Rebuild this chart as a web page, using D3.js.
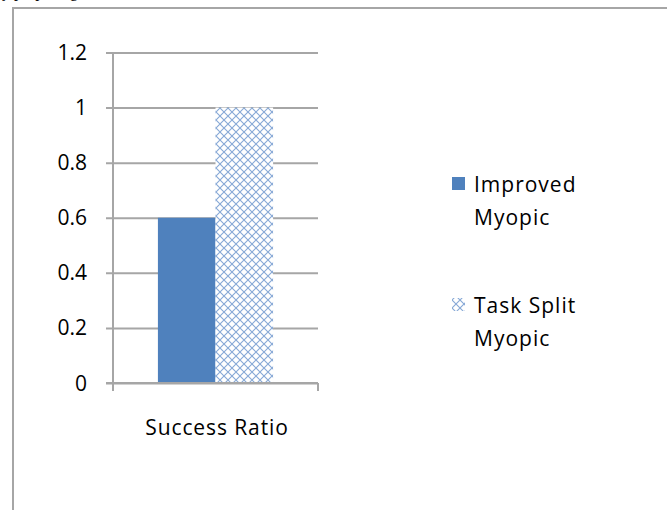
<!DOCTYPE html>
<html>
<head>
<meta charset="utf-8">
<script src="https://cdn.jsdelivr.net/npm/d3@7"></script>
<style>
  html, body { margin: 0; padding: 0; background: #fff; }
  svg { display: block; }
</style>
</head>
<body>
<div id="chart"></div>
<script>
// Data
const categories = ["Success Ratio"];
const seriesNames = ["Improved Myopic", "Task Split Myopic"];
const improvedMyopic = [0.6];
const taskSplitMyopic = [1.0];
const yTicks = [0, 0.2, 0.4, 0.6, 0.8, 1, 1.2];

const W = 667, H = 510;
const svg = d3.select("#chart").append("svg").attr("width", W).attr("height", H);

// Crosshatch pattern for the second series
const defs = svg.append("defs");
const pat = defs.append("pattern")
  .attr("id", "xhatch").attr("patternUnits", "userSpaceOnUse")
  .attr("width", 8).attr("height", 8);
pat.append("rect").attr("width", 8).attr("height", 8).attr("fill", "#fff");
pat.append("path").attr("d", "M0,0 L8,8 M8,0 L0,8")
  .attr("stroke", "#86a8d6").attr("stroke-width", 1.1).attr("fill", "none");

const font = "'Open Sans', Lato, sans-serif";

// Clipped line of the surrounding page text above the frame
svg.append("text").attr("x", -6).attr("y", -3)
  .attr("font-family", "'Liberation Serif', serif").attr("font-size", 16)
  .attr("fill", "#000").text("by proposing");

// Chart frame
svg.append("path").attr("d", "M13,515 L13,8 L667,8")
  .attr("fill", "none").attr("stroke", "#a6a6a6").attr("stroke-width", 2);

// Scales
const plot = { left: 113, right: 318, top: 52.5, bottom: 383 };
const y = d3.scaleLinear().domain([0, 1.2]).range([plot.bottom, plot.top]);
const x0 = d3.scaleBand().domain(categories).range([plot.left, plot.right]).paddingInner(0).paddingOuter(0.39);
const x1 = d3.scaleBand().domain(seriesNames).range([0, x0.bandwidth()]);

// Gridlines with outward ticks
const g = svg.append("g");
g.append("g").attr("transform", `translate(${plot.left},0)`)
  .call(d3.axisLeft(y).tickValues(yTicks).tickSize(-(plot.right - plot.left)).tickFormat(""))
  .call(s => s.select(".domain").remove())
  .call(s => s.selectAll("line").attr("stroke", "#a6a6a6").attr("stroke-width", 2)
    .attr("x1", -7));

// Y labels
g.selectAll("text.ylab").data(yTicks).enter().append("text")
  .attr("class", "ylab")
  .attr("x", 87).attr("y", d => y(d))
  .attr("dy", "0.36em").attr("text-anchor", "end")
  .attr("font-family", font).attr("font-size", 21).attr("fill", "#000")
  .text(d => d3.format("~g")(d));

// Bars
const values = [improvedMyopic, taskSplitMyopic];
const fills = ["#4f81bd", "url(#xhatch)"];
seriesNames.forEach((name, i) => {
  svg.selectAll(null).data(categories).enter().append("rect")
    .attr("x", c => x0(c) + x1(name))
    .attr("y", (c, j) => y(values[i][j]))
    .attr("width", x1.bandwidth())
    .attr("height", (c, j) => y(0) - y(values[i][j]))
    .attr("fill", fills[i]);
});

// Axes lines
svg.append("line").attr("x1", plot.left).attr("x2", plot.left)
  .attr("y1", plot.top).attr("y2", 391)
  .attr("stroke", "#a6a6a6").attr("stroke-width", 2);
svg.append("line").attr("x1", plot.left - 7).attr("x2", plot.right)
  .attr("y1", plot.bottom).attr("y2", plot.bottom)
  .attr("stroke", "#a6a6a6").attr("stroke-width", 2);
svg.append("line").attr("x1", plot.right).attr("x2", plot.right)
  .attr("y1", plot.bottom).attr("y2", 391)
  .attr("stroke", "#a6a6a6").attr("stroke-width", 2);

// Category label
svg.selectAll("text.cat").data(categories).enter().append("text")
  .attr("class", "cat")
  .attr("x", 217).attr("y", 435)
  .attr("text-anchor", "middle")
  .attr("font-family", font).attr("font-size", 21).attr("letter-spacing", 0.9)
  .attr("fill", "#000")
  .text(c => c);

// Legend
const legend = svg.append("g");
const legendLines = [["Improved", "Myopic"], ["Task Split", "Myopic"]];
const legendY = [177, 298];
seriesNames.forEach((name, i) => {
  const ly = legendY[i];
  legend.append("rect").attr("x", 452).attr("y", ly).attr("width", 13).attr("height", 13)
    .attr("fill", fills[i]);
  legendLines[i].forEach((t, k) => {
    legend.append("text").attr("x", 474).attr("y", ly + 15 + k * 33)
      .attr("font-family", font).attr("font-size", 21).attr("letter-spacing", 1)
      .attr("fill", "#000")
      .text(t);
  });
});
</script>
</body>
</html>
